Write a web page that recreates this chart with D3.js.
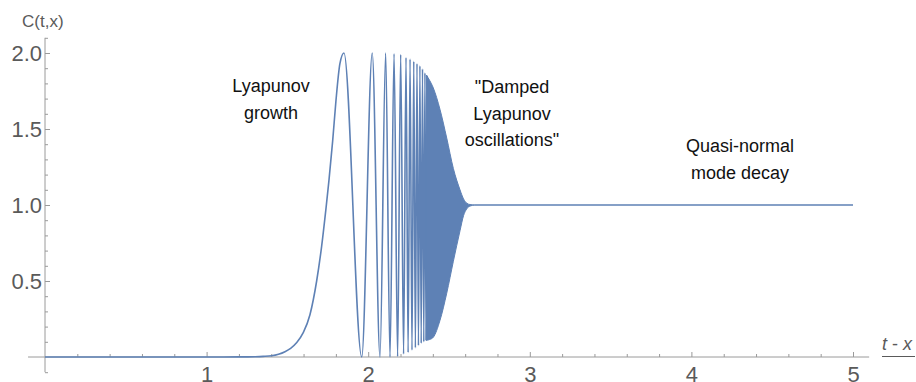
<!DOCTYPE html>
<html>
<head>
<meta charset="utf-8">
<script src="https://cdn.jsdelivr.net/npm/d3@7"></script>
<style>
  body { margin: 0; background: #fff; }
  svg { display: block; font-family: "Liberation Sans", Arial, sans-serif; }
</style>
</head>
<body>
<div id="chart"></div>
<script>
// values
var growthT = [0, 1.0, 1.2, 1.3, 1.35, 1.403, 1.445, 1.485, 1.52, 1.558, 1.598, 1.640, 1.681, 1.712, 1.739, 1.757, 1.78, 1.80, 1.825, 1.850];
var growthC = [0, 0, 0.0005, 0.002, 0.004, 0.008, 0.018, 0.035, 0.057, 0.095, 0.16, 0.28, 0.50, 0.73, 0.98, 1.16, 1.42, 1.68, 1.93, 2.0];

// turning points of the visible oscillations (trough, peak, trough, ...)
var oscT = [1.960, 2.025, 2.073, 2.108, 2.135, 2.160, 2.182, 2.201, 2.219, 2.234, 2.247, 2.259, 2.271, 2.282,
            2.292, 2.302, 2.311, 2.320, 2.328, 2.336, 2.344, 2.351, 2.358, 2.365];
var oscC = [0, 2.0, 0, 2.0, 0, 1.995, 0.003, 1.99, 0.02, 1.97, 0.03, 1.96, 0.045, 1.945,
            0.06, 1.93, 0.075, 1.915, 0.09, 1.895, 0.10, 1.87, 0.11, 1.85];

// envelope of the dense (unresolved) oscillations
var bandT = [2.360, 2.380, 2.403, 2.444, 2.486, 2.527, 2.568, 2.590, 2.610, 2.630, 2.660];
var bandUpper = [1.855, 1.82, 1.77, 1.63, 1.44, 1.24, 1.10, 1.04, 1.012, 1.003, 1.0];
var bandLower = [0.11, 0.115, 0.13, 0.24, 0.42, 0.63, 0.83, 0.93, 0.975, 0.993, 1.0];

// quasi-normal plateau
var plateauT = [2.66, 5.0];
var plateauC = [1.0, 1.0];

var xTicks = [1, 2, 3, 4, 5];
var yTicks = [0.5, 1.0, 1.5, 2.0];

var notes = [
  {x: 271, y: 92, lines: ['Lyapunov', 'growth']},
  {x: 512, y: 93, lines: ['"Damped', 'Lyapunov', 'oscillations"']},
  {x: 740, y: 152, lines: ['Quasi-normal', 'mode decay']}
];

var width = 916, height = 382;
var blue = '#5e81b5';
var axisGray = '#9a9a9a';
var labelGray = '#5a5a5a';

var svg = d3.select('#chart').append('svg')
  .attr('width', width)
  .attr('height', height);

var x = d3.scaleLinear().domain([0, 5]).range([45, 853]);
var y = d3.scaleLinear().domain([0, 2]).range([357, 53]);

// axis lines
svg.append('line')
  .attr('x1', x(-0.105)).attr('x2', x(5.1))
  .attr('y1', y(0)).attr('y2', y(0))
  .attr('stroke', axisGray).attr('stroke-width', 1);
svg.append('line')
  .attr('x1', x(0)).attr('x2', x(0))
  .attr('y1', y(-0.1)).attr('y2', y(2.1))
  .attr('stroke', axisGray).attr('stroke-width', 1);

// x ticks
var xMinor = d3.range(2, 51, 2).map(d => d / 10).filter(d => xTicks.indexOf(d) < 0);
var xMinorAxis = d3.axisBottom(x).tickValues(xMinor).tickSize(-3).tickFormat('');
var xAxis = d3.axisBottom(x).tickValues(xTicks).tickSize(-5).tickPadding(9).tickFormat(d3.format('d'));

svg.append('g').attr('transform', 'translate(0,' + y(0) + ')').call(xMinorAxis);
svg.append('g').attr('class', 'x axis').attr('transform', 'translate(0,' + y(0) + ')').call(xAxis);

// y ticks
var yMinor = d3.range(-1, 22, 1).map(d => d / 10).filter(d => d !== 0 && yTicks.indexOf(d) < 0);
var yMinorAxis = d3.axisLeft(y).tickValues(yMinor).tickSize(-3).tickFormat('');
var yAxis = d3.axisLeft(y).tickValues(yTicks).tickSize(-5).tickPadding(3).tickFormat(d3.format('.1f'));

svg.append('g').attr('transform', 'translate(' + x(0) + ',0)').call(yMinorAxis);
svg.append('g').attr('class', 'y axis').attr('transform', 'translate(' + x(0) + ',0)').call(yAxis);

svg.selectAll('.domain').remove();
svg.selectAll('.tick line').attr('stroke', axisGray);
svg.selectAll('.tick text')
  .attr('fill', labelGray)
  .style('font-size', '22px')
  .style('font-family', '"Liberation Sans", Arial, sans-serif');

// axis labels
svg.append('text')
  .attr('x', 22).attr('y', 27)
  .attr('fill', labelGray)
  .style('font-size', '17px')
  .text('C(t,x)');

var tx = svg.append('text')
  .attr('x', 882).attr('y', 350)
  .attr('fill', labelGray)
  .style('font-size', '18px');
tx.append('tspan').style('font-style', 'italic').text('t');
tx.append('tspan').text(' - ');
tx.append('tspan').style('font-style', 'italic').text('x');
svg.append('line')
  .attr('x1', 882).attr('x2', 915)
  .attr('y1', 356.5).attr('y2', 356.5)
  .attr('stroke', labelGray).attr('stroke-width', 1);

// curve
var mainPts = growthT.map((t, i) => [t, growthC[i]])
  .concat(oscT.map((t, i) => [t, oscC[i]]));

var line = d3.line()
  .x(d => x(d[0]))
  .y(d => y(d[1]))
  .curve(d3.curveMonotoneX);

svg.append('path')
  .datum(mainPts)
  .attr('d', line)
  .attr('fill', 'none')
  .attr('stroke', blue)
  .attr('stroke-width', 1.6)
  .attr('stroke-linejoin', 'round');

var band = d3.area()
  .x((t) => x(t))
  .y0((t, i) => y(bandLower[i]))
  .y1((t, i) => y(bandUpper[i]))
  .curve(d3.curveMonotoneX);

svg.append('path')
  .datum(bandT)
  .attr('d', band)
  .attr('fill', blue)
  .attr('stroke', blue)
  .attr('stroke-width', 1);

svg.append('path')
  .datum(plateauT.map((t, i) => [t, plateauC[i]]))
  .attr('d', line)
  .attr('fill', 'none')
  .attr('stroke', blue)
  .attr('stroke-width', 1.6);

// annotations
notes.forEach(function(n) {
  var t = svg.append('text')
    .attr('text-anchor', 'middle')
    .attr('fill', '#111')
    .style('font-size', '18px');
  n.lines.forEach(function(s, i) {
    t.append('tspan').attr('x', n.x).attr('y', n.y + i * 26.5).text(s);
  });
});
</script>
</body>
</html>
